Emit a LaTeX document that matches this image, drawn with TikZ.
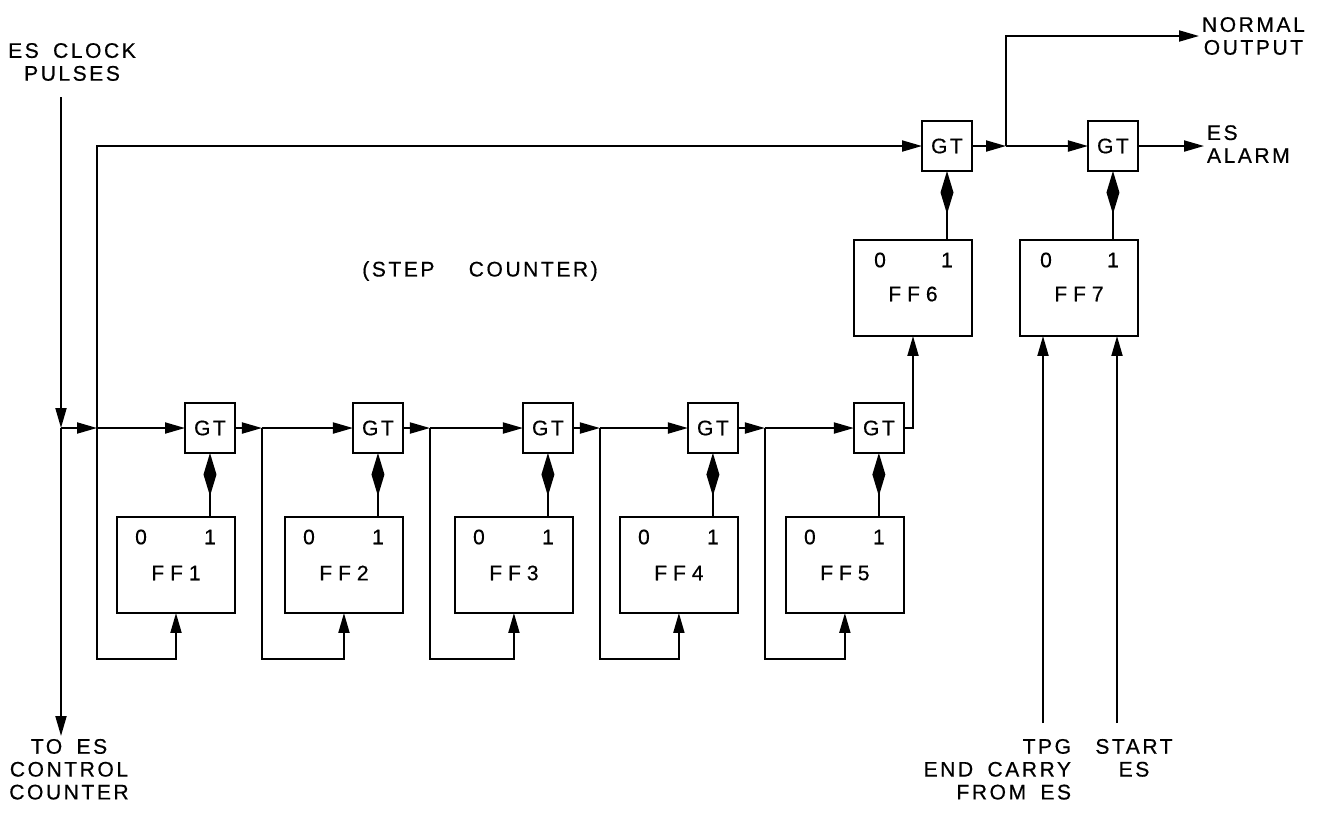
\documentclass[tikz,border=0pt]{standalone}
\usepackage{fontspec}
\setmainfont{Liberation Sans}[LetterSpace=12, WordSpace=1.7, FakeBold=0.5]
\usetikzlibrary{positioning,arrows.meta,calc}
\tikzset{
  gate/.style={draw, line width=1.1pt, minimum size=1cm, inner sep=0pt, outer sep=0pt,
               font=\fontsize{12}{13}\selectfont},
  flipflop/.style={draw, line width=1.1pt, minimum width=2.36cm, minimum height=1.92cm,
                   inner sep=0pt, outer sep=0pt},
  bit/.style={inner sep=0pt, font=\fontsize{12}{13}\selectfont},
  ffname/.style={bit, font=\fontsize{12}{13}\selectfont\addfontfeature{LetterSpace=28}},
  lbl/.style={inner sep=1.5pt, font=\fontsize{12}{13}\selectfont},
  wire/.style={line width=1.1pt},
  sig/.style={wire, -{Triangle[length=4mm, width=2.2mm]}},
  hold/.style={wire, -{Diamond[length=8.6mm, width=2.6mm]}}
}

\begin{document}
\begin{tikzpicture}[x=0.02cm, y=-0.02cm]
\useasboundingbox (0,0) rectangle (1321,815);
\node[flipflop] (ff1) at (176,565) {};
\node[flipflop, right=1cm of ff1] (ff2) {};
\node[flipflop, right=1.04cm of ff2] (ff3) {};
\node[flipflop, right=0.94cm of ff3] (ff4) {};
\node[flipflop, right=0.96cm of ff4] (ff5) {};
\node[flipflop] (ff6) at (913,288) {};
\node[flipflop, right=0.96cm of ff6] (ff7) {};
\node[gate, anchor=south east, at={($(ff1.north east)+(0,-64)$)}] (gt1) {GT};
\node[gate, anchor=south east, at={($(ff2.north east)+(0,-64)$)}] (gt2) {GT};
\node[gate, anchor=south east, at={($(ff3.north east)+(0,-64)$)}] (gt3) {GT};
\node[gate, anchor=south east, at={($(ff4.north east)+(0,-64)$)}] (gt4) {GT};
\node[gate, anchor=south east, at={($(ff5.north east)+(0,-64)$)}] (gt5) {GT};
\node[gate, anchor=south east, at={($(ff6.north east)+(0,-69)$)}] (gt6) {GT};
\node[gate, anchor=south east, at={($(ff7.north east)+(0,-69)$)}] (gt7) {GT};
\node[bit] (ff1a) at ($(ff1.north west)+(24,20)$) {0};
\node[bit] (ff1b) at (gt1.south |- ff1a) {1};
\node[ffname] (ff1c) at ($(ff1.north)+(0,56)$) {FF1};
\node[bit] (ff2a) at ($(ff2.north west)+(24,20)$) {0};
\node[bit] (ff2b) at (gt2.south |- ff2a) {1};
\node[ffname] (ff2c) at ($(ff2.north)+(0,56)$) {FF2};
\node[bit] (ff3a) at ($(ff3.north west)+(24,20)$) {0};
\node[bit] (ff3b) at (gt3.south |- ff3a) {1};
\node[ffname] (ff3c) at ($(ff3.north)+(0,56)$) {FF3};
\node[bit] (ff4a) at ($(ff4.north west)+(24,20)$) {0};
\node[bit] (ff4b) at (gt4.south |- ff4a) {1};
\node[ffname] (ff4c) at ($(ff4.north)+(0,56)$) {FF4};
\node[bit] (ff5a) at ($(ff5.north west)+(24,20)$) {0};
\node[bit] (ff5b) at (gt5.south |- ff5a) {1};
\node[ffname] (ff5c) at ($(ff5.north)+(0,56)$) {FF5};
\node[bit] (ff6a) at ($(ff6.north west)+(26,20)$) {0};
\node[bit] (ff6b) at (gt6.south |- ff6a) {1};
\node[ffname] (ff6c) at ($(ff6.north)+(0,54)$) {FF6};
\node[bit] (ff7a) at ($(ff7.north west)+(26,20)$) {0};
\node[bit] (ff7b) at (gt7.south |- ff7a) {1};
\node[ffname] (ff7c) at ($(ff7.north)+(0,54)$) {FF7};
\node[lbl, align=center] (clock) at (72,62) {ES CLOCK\\PULSES};
\node[lbl, align=center, anchor=north] (tocc) at (69,736) {TO ES\\CONTROL\\COUNTER};
\node[lbl] (stepc) at (480,271) {(STEP\hspace{0.4cm} COUNTER)};
\node[lbl, align=center, anchor=west] (normal) at (1199,36) {NORMAL\\OUTPUT};
\node[lbl, align=left, anchor=west] (alarm) at (1204,144) {ES\\ALARM};
\node[lbl, align=right, anchor=north east] (tpg) at (1074,736) {TPG\\END CARRY\\FROM ES};
\node[lbl, align=center, anchor=north] (start) at (1134,736) {START\\ES};
\coordinate (clkin) at (61,97);
\coordinate (cj) at (61,428);
\coordinate (j0) at (97,428);
\coordinate (rail) at (0,659);
\coordinate[right=0.54cm of gt1.east] (j1);
\coordinate[right=0.54cm of gt2.east] (j2);
\coordinate[right=0.54cm of gt3.east] (j3);
\coordinate[right=0.54cm of gt4.east] (j4);
\coordinate[right=0.68cm of gt6.east] (j6);
\coordinate (tpgin) at (1043,723);
\coordinate (startin) at (1117,723);
\draw[sig] (clkin) -- (cj);
\draw[sig] (cj) -- (cj |- tocc.north);
\draw[sig] (cj) -- (j0);
\draw[sig] (j0) -- (gt1.west);
\draw[sig] (j0) |- (gt6.west);
\draw[sig] (j0) -- (j0 |- rail) -| (ff1.south);
\draw[sig] (gt1.east) -- (j1);
\draw[sig] (j1) -- (gt2.west);
\draw[sig] (j1) -- (j1 |- rail) -| (ff2.south);
\draw[sig] (gt2.east) -- (j2);
\draw[sig] (j2) -- (gt3.west);
\draw[sig] (j2) -- (j2 |- rail) -| (ff3.south);
\draw[sig] (gt3.east) -- (j3);
\draw[sig] (j3) -- (gt4.west);
\draw[sig] (j3) -- (j3 |- rail) -| (ff4.south);
\draw[sig] (gt4.east) -- (j4);
\draw[sig] (j4) -- (gt5.west);
\draw[sig] (j4) -- (j4 |- rail) -| (ff5.south);
\draw[sig] (gt5.east) -| (ff6.south);
\draw[sig] (gt6.east) -- (j6);
\draw[sig] (j6) |- (normal.west);
\draw[sig] (j6) -- (gt7.west);
\draw[sig] (gt7.east) -- (gt7.east -| alarm.west);
\draw[sig] (tpgin) -- (tpgin |- ff7.south);
\draw[sig] (startin) -- (startin |- ff7.south);
\draw[hold] (gt1.south |- ff1.north) -- (gt1.south);
\draw[hold] (gt2.south |- ff2.north) -- (gt2.south);
\draw[hold] (gt3.south |- ff3.north) -- (gt3.south);
\draw[hold] (gt4.south |- ff4.north) -- (gt4.south);
\draw[hold] (gt5.south |- ff5.north) -- (gt5.south);
\draw[hold] (gt6.south |- ff6.north) -- (gt6.south);
\draw[hold] (gt7.south |- ff7.north) -- (gt7.south);
\end{tikzpicture}
\end{document}
